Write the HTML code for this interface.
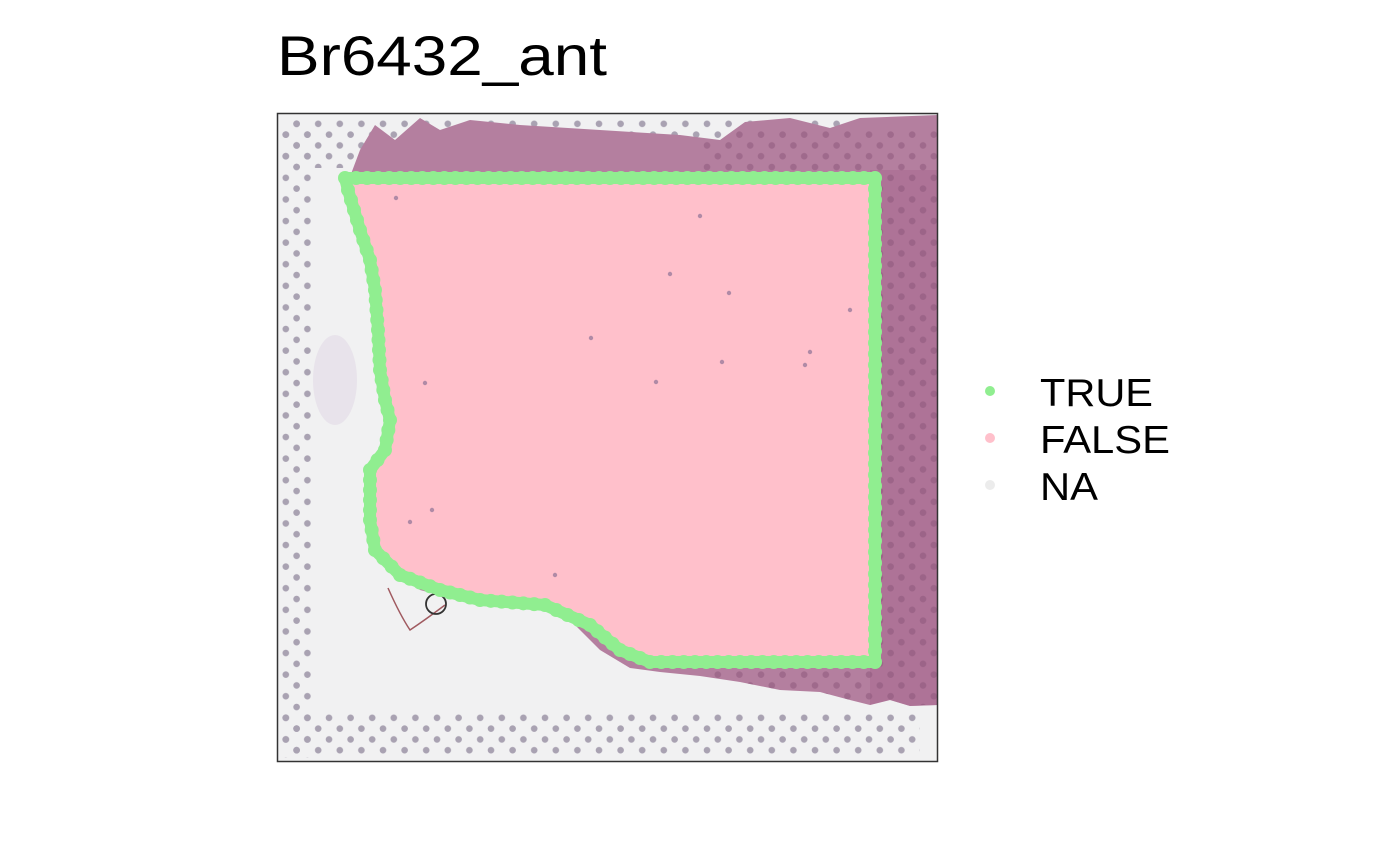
<!DOCTYPE html>
<html><head><meta charset="utf-8">
<style>
html,body{margin:0;padding:0;background:#fff;width:1400px;height:866px;overflow:hidden}
svg{display:block}
text{font-family:"Liberation Sans",sans-serif}
</style></head>
<body>
<svg id="chart" width="1400" height="866" viewBox="0 0 1400 866">
<defs>
<pattern id="spots" x="0" y="0" width="21.6" height="21.6" patternUnits="userSpaceOnUse">
<circle cx="5" cy="5" r="3.3" fill="#a9a2b2"/>
<circle cx="15.8" cy="15.8" r="3.3" fill="#a9a2b2"/>
</pattern>
<pattern id="spotsDark" x="0" y="0" width="21.6" height="21.6" patternUnits="userSpaceOnUse">
<circle cx="5" cy="5" r="3.3" fill="#8a5478"/>
<circle cx="15.8" cy="15.8" r="3.3" fill="#8a5478"/>
</pattern>
<clipPath id="panelClip"><rect x="277" y="113" width="661" height="649"/></clipPath>
<clipPath id="tissueClip"><path d="M360,150 L375,125 L395,140 L420,118 L440,130 L470,120 L520,125 L600,130 L680,135 L720,140 L745,122 L790,118 L830,128 L860,118 L938,115 L938,705 L910,706 L890,700 L870,705 L850,700 L820,692 L780,690 L740,682 L700,676 L660,672 L630,668 L600,650 L570,620 L545,610 L500,605 L450,598 L420,590 L390,570 L372,540 L370,480 L385,440 L380,370 L372,300 L360,240 L345,190 Z"/></clipPath>
</defs>
<text x="277" y="75" font-size="56" textLength="330" lengthAdjust="spacingAndGlyphs" fill="#000">Br6432_ant</text>
<g clip-path="url(#panelClip)">
<rect x="277" y="113" width="661" height="649" fill="#f1f1f2"/>
<rect x="280" y="118" width="32" height="640" fill="url(#spots)"/>
<rect x="280" y="118" width="655" height="50" fill="url(#spots)"/>
<rect x="280" y="712" width="640" height="45" fill="url(#spots)"/>
<ellipse cx="335" cy="380" rx="22" ry="45" fill="#e2dbe6" opacity="0.6"/>
<g clip-path="url(#tissueClip)">
<rect x="277" y="113" width="661" height="649" fill="#b47f9f"/>
<rect x="870" y="170" width="68" height="540" fill="#a8688f" opacity="0.5"/>
<rect x="700" y="130" width="238" height="575" fill="url(#spotsDark)" opacity="0.5"/>
</g>
<path d="M388,588 Q400,615 410,630 Q425,620 445,605" stroke="#a05a60" stroke-width="1.5" fill="none"/>
<circle cx="436" cy="604" r="10" stroke="#333" stroke-width="1.8" fill="none"/>
</g>
<g id="spotsLayer"></g>
<rect x="277.5" y="113.5" width="660" height="648" fill="none" stroke="#333" stroke-width="1.5"/>
<g>
<circle cx="990" cy="391" r="5" fill="#90ee90"/>
<text x="1040" y="406" font-size="39" textLength="113" lengthAdjust="spacingAndGlyphs">TRUE</text>
<circle cx="990" cy="438" r="5" fill="#ffc0cb"/>
<text x="1040" y="453" font-size="39" textLength="130" lengthAdjust="spacingAndGlyphs">FALSE</text>
<circle cx="990" cy="485" r="5" fill="#ececec"/>
<text x="1040" y="500" font-size="39" textLength="58" lengthAdjust="spacingAndGlyphs">NA</text>
</g>
</svg>
<script>
// boundary of in-tissue region (image pixel coordinates of the spot grid)
const boundaryX=[345,875,875,650,620,590,545,480,440,400,375,370,370,385,390,385,380,378,375,370,360,348];
const boundaryY=[178,178,662,662,650,625,605,600,590,575,550,520,470,450,420,400,370,330,290,260,230,190];
const naSpotsX=[396,700,670,729,591,656,722,425,432,410,555,810,805,850];
const naSpotsY=[198,216,274,293,338,382,362,383,510,522,575,352,365,310];
const NS="http://www.w3.org/2000/svg";
const layer=document.getElementById('spotsLayer');
let pts=boundaryX.map((x,i)=>x+','+boundaryY[i]).join(' ');
const poly=document.createElementNS(NS,'polygon');
poly.setAttribute('points',pts);
poly.setAttribute('fill','#ffc0cb');


layer.appendChild(poly);
const outline=document.createElementNS(NS,'polygon');
outline.setAttribute('points',pts);
outline.setAttribute('fill','none');
outline.setAttribute('stroke','#90ee90');
outline.setAttribute('stroke-width','12');
outline.setAttribute('stroke-linejoin','round');


layer.appendChild(outline);
for(let i=0;i<boundaryX.length;i++){
  const x0=boundaryX[i],y0=boundaryY[i];
  const x1=boundaryX[(i+1)%boundaryX.length],y1=boundaryY[(i+1)%boundaryY.length];
  const L=Math.hypot(x1-x0,y1-y0);
  const n=Math.max(1,Math.round(L/11));
  for(let k=0;k<n;k++){
    const t=k/n;
    const c=document.createElementNS(NS,'circle');
    c.setAttribute('cx',x0+(x1-x0)*t);
    c.setAttribute('cy',y0+(y1-y0)*t);
    c.setAttribute('r',7);
    c.setAttribute('fill','#90ee90');
    
    
    layer.appendChild(c);
  }
}
for(let i=0;i<naSpotsX.length;i++){
  const c=document.createElementNS(NS,'circle');
  c.setAttribute('cx',naSpotsX[i]);
  c.setAttribute('cy',naSpotsY[i]);
  c.setAttribute('r',2.2);
  c.setAttribute('fill','#b08aa6');
  
  
  layer.appendChild(c);
}
</script>
</body></html>
